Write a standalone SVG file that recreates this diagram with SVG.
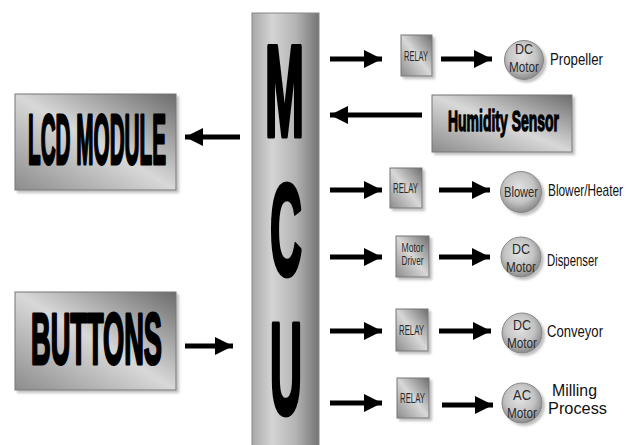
<svg xmlns="http://www.w3.org/2000/svg" width="633" height="445" viewBox="0 0 633 445">
<defs>
<linearGradient id="boxg" x1="0" y1="1" x2="1" y2="0">
<stop offset="0" stop-color="#8c8c8c"/>
<stop offset="0.5" stop-color="#d8d8d8"/>
<stop offset="1" stop-color="#6c6c6c"/>
</linearGradient>
<linearGradient id="mcug" x1="0" y1="0" x2="1" y2="0">
<stop offset="0" stop-color="#a8a8a8"/>
<stop offset="0.3" stop-color="#d4d4d4"/>
<stop offset="0.65" stop-color="#b4b4b4"/>
<stop offset="1" stop-color="#747474"/>
</linearGradient>
<radialGradient id="circg" cx="0.45" cy="0.4" r="0.6">
<stop offset="0" stop-color="#e2e2e2"/>
<stop offset="0.6" stop-color="#c4c4c4"/>
<stop offset="1" stop-color="#8a8a8a"/>
</radialGradient>
<filter id="sh" x="-10%" y="-10%" width="130%" height="130%">
<feDropShadow dx="2.5" dy="2.5" stdDeviation="1" flood-color="#000" flood-opacity="0.25"/>
</filter>
<marker id="ah" markerUnits="userSpaceOnUse" markerWidth="20" markerHeight="20" refX="18" refY="9" orient="auto">
<path d="M0,0 L18,9 L0,18 Z" fill="#000"/>
</marker>
<style>
.box{fill:url(#boxg);stroke:#777;stroke-width:1;filter:url(#sh)}
.circ{fill:url(#circg);stroke:#888;stroke-width:1;filter:url(#sh)}
.big{font-family:"Liberation Sans",Arial,sans-serif;font-weight:bold;fill:#000;stroke:#000;stroke-linejoin:round}
.sm{font-family:"Liberation Sans",Arial,sans-serif;fill:#2a2a2a}
.lbl{font-family:"Liberation Sans",Arial,sans-serif;font-size:17px;fill:#111}
.ar{stroke:#000;stroke-width:5;fill:none;marker-end:url(#ah)}
</style>
</defs>
<rect width="633" height="445" fill="#fff"/>

<g id="mcu">
<rect x="252" y="13" width="67" height="440" fill="url(#mcug)" stroke="#888" stroke-width="1"/>
<text class="big" x="265" y="136" font-size="130" stroke-width="5" textLength="39" lengthAdjust="spacingAndGlyphs">M</text>
<text class="big" x="270" y="275" font-size="130" stroke-width="5" textLength="32" lengthAdjust="spacingAndGlyphs">C</text>
<text class="big" x="270" y="414" font-size="130" stroke-width="5" textLength="32" lengthAdjust="spacingAndGlyphs">U</text>
</g>

<g id="lcd">
<rect class="box" x="15" y="94" width="161" height="96"/>
<text class="big" x="28" y="164" font-size="71" stroke-width="3" textLength="138" lengthAdjust="spacingAndGlyphs">LCD MODULE</text>
</g>

<g id="buttons">
<rect class="box" x="15" y="292" width="161" height="98"/>
<text class="big" x="31" y="364" font-size="72" stroke-width="3" textLength="131" lengthAdjust="spacingAndGlyphs">BUTTONS</text>
</g>

<g id="humidity">
<rect class="box" x="432" y="95" width="140" height="57"/>
<text class="big" x="448" y="131" font-size="29" stroke-width="1.4" textLength="111" lengthAdjust="spacingAndGlyphs">Humidity Sensor</text>
</g>

<g id="relay1">
<rect class="box" x="401" y="35" width="31" height="41"/>
<text class="sm" x="404" y="61" font-size="14" textLength="24" lengthAdjust="spacingAndGlyphs">RELAY</text>
</g>
<g id="relay2">
<rect class="box" x="390" y="168" width="32" height="40"/>
<text class="sm" x="393" y="193" font-size="14" textLength="25" lengthAdjust="spacingAndGlyphs">RELAY</text>
</g>
<g id="motordriver">
<rect class="box" x="396" y="236" width="33" height="41"/>
<text class="sm" x="412.5" y="252" font-size="12" text-anchor="middle" textLength="22" lengthAdjust="spacingAndGlyphs">Motor</text>
<text class="sm" x="412.5" y="265" font-size="12" text-anchor="middle" textLength="22" lengthAdjust="spacingAndGlyphs">Driver</text>
</g>
<g id="relay3">
<rect class="box" x="396" y="309" width="32" height="42"/>
<text class="sm" x="399" y="335" font-size="14" textLength="25" lengthAdjust="spacingAndGlyphs">RELAY</text>
</g>
<g id="relay4">
<rect class="box" x="397" y="378" width="32" height="40"/>
<text class="sm" x="400" y="403" font-size="14" textLength="25" lengthAdjust="spacingAndGlyphs">RELAY</text>
</g>

<g id="motor1">
<circle class="circ" cx="524" cy="60" r="19.5"/>
<text class="sm" x="524" y="54" font-size="14" text-anchor="middle" textLength="18" lengthAdjust="spacingAndGlyphs">DC</text>
<text class="sm" x="524" y="72" font-size="14" text-anchor="middle" textLength="30" lengthAdjust="spacingAndGlyphs">Motor</text>
</g>
<g id="blower">
<circle class="circ" cx="521" cy="192" r="20.5"/>
<text class="sm" x="521" y="197" font-size="14" text-anchor="middle" textLength="34" lengthAdjust="spacingAndGlyphs">Blower</text>
</g>
<g id="motor2">
<circle class="circ" cx="521" cy="257" r="20"/>
<text class="sm" x="521" y="254" font-size="14" text-anchor="middle" textLength="18" lengthAdjust="spacingAndGlyphs">DC</text>
<text class="sm" x="521" y="272" font-size="14" text-anchor="middle" textLength="30" lengthAdjust="spacingAndGlyphs">Motor</text>
</g>
<g id="motor3">
<circle class="circ" cx="522" cy="333" r="20"/>
<text class="sm" x="522" y="330" font-size="14" text-anchor="middle" textLength="18" lengthAdjust="spacingAndGlyphs">DC</text>
<text class="sm" x="522" y="348" font-size="14" text-anchor="middle" textLength="30" lengthAdjust="spacingAndGlyphs">Motor</text>
</g>
<g id="motor4">
<circle class="circ" cx="522" cy="403" r="20"/>
<text class="sm" x="522" y="400" font-size="14" text-anchor="middle" textLength="18" lengthAdjust="spacingAndGlyphs">AC</text>
<text class="sm" x="522" y="418" font-size="14" text-anchor="middle" textLength="30" lengthAdjust="spacingAndGlyphs">Motor</text>
</g>

<g id="labels">
<text class="lbl" x="550" y="65" textLength="53" lengthAdjust="spacingAndGlyphs">Propeller</text>
<text class="lbl" x="548" y="196" textLength="75" lengthAdjust="spacingAndGlyphs">Blower/Heater</text>
<text class="lbl" x="547" y="266" textLength="51" lengthAdjust="spacingAndGlyphs">Dispenser</text>
<text class="lbl" x="547" y="337" textLength="56" lengthAdjust="spacingAndGlyphs">Conveyor</text>
<text class="lbl" x="552" y="396" textLength="45" lengthAdjust="spacingAndGlyphs">Milling</text>
<text class="lbl" x="548" y="414" textLength="59" lengthAdjust="spacingAndGlyphs">Process</text>
</g>

<g id="connectors">
<line class="ar" x1="330" y1="59" x2="382" y2="59"/>
<line class="ar" x1="441" y1="59" x2="492" y2="59"/>
<line class="ar" x1="422" y1="115" x2="330" y2="115"/>
<line class="ar" x1="330" y1="190" x2="382" y2="190"/>
<line class="ar" x1="439" y1="190" x2="490" y2="190"/>
<line class="ar" x1="330" y1="257" x2="382" y2="257"/>
<line class="ar" x1="439" y1="257" x2="490" y2="257"/>
<line class="ar" x1="330" y1="331" x2="382" y2="331"/>
<line class="ar" x1="439" y1="331" x2="491" y2="331"/>
<line class="ar" x1="330" y1="403" x2="382" y2="403"/>
<line class="ar" x1="442" y1="405" x2="493" y2="405"/>
<line class="ar" x1="240" y1="137" x2="185" y2="137"/>
<line class="ar" x1="185" y1="346" x2="233" y2="346"/>
</g>
</svg>
